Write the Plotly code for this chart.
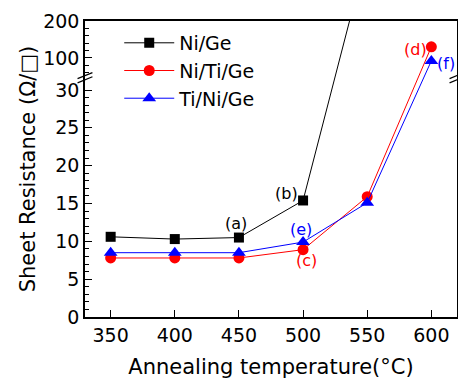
import plotly.graph_objects as go

# ---- data ----
temps = [350, 400, 450, 500, 550, 600]
ni_ge = [10.6, 10.3, 10.5, 15.4, 385, None]
ni_ti_ge = [7.8, 7.8, 7.8, 8.9, 15.9, 130]
ti_ni_ge = [8.5, 8.5, 8.5, 9.9, 15.1, 92]
y_major_low = [0, 5, 10, 15, 20, 25, 30]
y_major_high = [100, 200]
x_ticks = [350, 400, 450, 500, 550, 600]

# ---- broken-axis mapping (lower 0..31 linear, upper 50..200 compressed) ----
LOW_TOP = 31.0
GAP_T = 0.8
HIGH_BOTTOM = 50.0
K = 0.0488


def brk(v):
    if v is None:
        return None
    if v <= LOW_TOP:
        return v
    return LOW_TOP + GAP_T + (v - HIGH_BOTTOM) * K


T_MAX = brk(200)
FONT = "DejaVu Sans, sans-serif"

fig = go.Figure()
series = [
    ("Ni/Ge", ni_ge, "black", "square", 10),
    ("Ni/Ti/Ge", ni_ti_ge, "#ff0000", "circle", 11),
    ("Ti/Ni/Ge", ti_ni_ge, "#0000ff", "triangle-up", 12),
]
for name, vals, col, sym, sz in series:
    fig.add_trace(go.Scatter(
        x=temps, y=[brk(v) for v in vals], name=name, mode="lines+markers",
        line=dict(color=col, width=1), marker=dict(symbol=sym, size=sz, color=col),
        cliponaxis=True, connectgaps=False,
    ))

minor_vals = [v for v in range(0, 31) if v % 5 != 0] + [brk(v) for v in [60, 80, 120, 140, 160, 180]]
tickvals = [brk(v) for v in y_major_low + y_major_high]
ticktext = [str(v) for v in y_major_low + y_major_high]

# page body has an 8px default margin, so the figure is sized to fit inside the window
fig.update_layout(
    width=450, height=371,
    margin=dict(l=77, r=1, t=13, b=62),
    paper_bgcolor="white", plot_bgcolor="white",
    font=dict(family=FONT, size=19, color="black"),
    showlegend=True,
    legend=dict(x=0.092, y=0.99, xanchor="left", yanchor="top",
                font=dict(size=19), bgcolor="rgba(0,0,0,0)", tracegroupgap=0,
                itemwidth=50),
    xaxis=dict(range=[330, 620], tickvals=x_ticks, ticks="inside", ticklen=7,
               tickwidth=1, tickcolor="black", showline=True, linecolor="black",
               linewidth=1.5, mirror=True, showgrid=False, zeroline=False,
               automargin=False,
               title=dict(text="Annealing temperature(°C)", font=dict(size=21), standoff=26)),
    yaxis=dict(range=[0, T_MAX], tickmode="array", tickvals=tickvals, ticktext=ticktext,
               ticks="inside", ticklen=7, tickwidth=1, tickcolor="black",
               showline=True, linecolor="black", linewidth=1.5, mirror=True,
               showgrid=False, zeroline=False, automargin=False,
               minor=dict(tickmode="array", tickvals=minor_vals, ticks="inside",
                          ticklen=4, tickwidth=1, tickcolor="black"),
               title=dict(text="Sheet Resistance (Ω/□)", font=dict(size=21), standoff=2)),
)

# break marks on left and right axes
for xp in (0.0, 1.0):
    for off in (0.0, 0.55):
        fig.add_shape(type="line", xref="paper", yref="y",
                      x0=xp - 0.02, x1=xp + 0.02, y0=30.95 + off, y1=31.75 + off,
                      line=dict(color="black", width=1.2))

ann = [
    ("(a)", 450, ni_ge[2], "black", -3, 14),
    ("(b)", 500, ni_ge[3], "black", -17, 7),
    ("(e)", 500, ti_ni_ge[3], "#0000ff", -2, 13),
    ("(c)", 500, ni_ti_ge[3], "#ff0000", 3, -11),
    ("(d)", 600, ni_ti_ge[5], "#ff0000", -16, -3),
    ("(f)", 600, ti_ni_ge[5], "#0000ff", 15, -3),
]
for txt, xv, yv, col, xs, ys in ann:
    fig.add_annotation(x=xv, y=brk(yv), text=txt, showarrow=False, xshift=xs, yshift=ys,
                       font=dict(size=16, color=col, family=FONT))

fig.write_html("out.html")
